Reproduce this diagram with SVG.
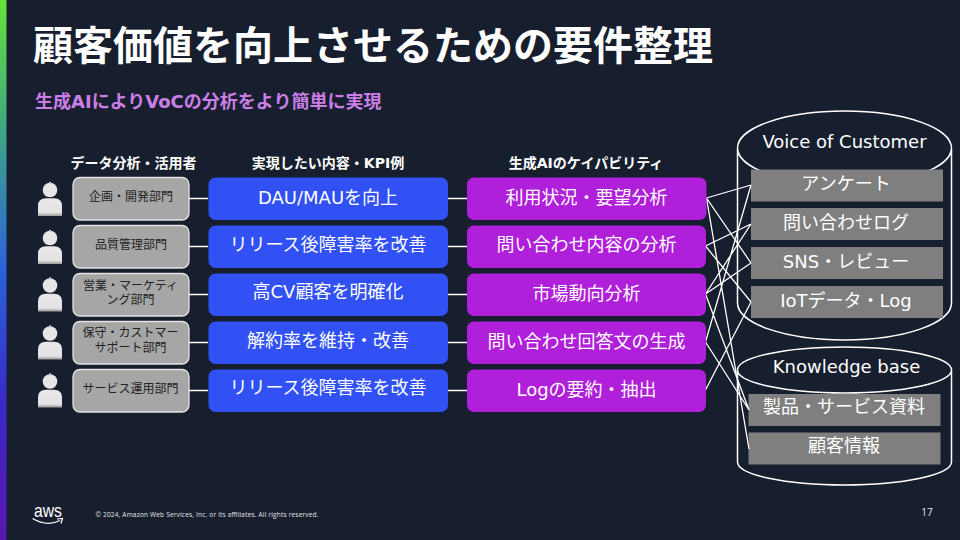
<svg xmlns="http://www.w3.org/2000/svg" xmlns:xlink="http://www.w3.org/1999/xlink" width="960" height="540" viewBox="0 0 960 540">
<style>
text{font-family:"DejaVu Sans","Noto Sans CJK JP",sans-serif;}
.m{text-anchor:middle}
.h{font-size:14px;font-weight:700;fill:#fff;text-anchor:middle}
.d{fill:#a6a6a6;stroke:#e4e4e4;stroke-width:1.3}
.dt{font-size:12px;fill:#222;text-anchor:middle}
.b{fill:#3251f5}
.p{fill:#b01fd9}
.t{font-size:18px;fill:#fff;text-anchor:middle}
.g{fill:#7f7f7f}
.c{fill:none;stroke:#fff;stroke-width:1.5}
.l{fill:none;stroke:#fff;stroke-width:1.3}
</style>
<defs>
<linearGradient id="bar" x1="0" y1="0" x2="0" y2="1">
<stop offset="0" stop-color="#66e23a"/>
<stop offset="0.22" stop-color="#41ab7c"/>
<stop offset="0.5" stop-color="#2a62dc"/>
<stop offset="0.75" stop-color="#3a28c8"/>
<stop offset="1" stop-color="#5a16b0"/>
</linearGradient>
<linearGradient id="person" x1="0" y1="0" x2="0" y2="1">
<stop offset="0" stop-color="#e8e8e8"/>
<stop offset="0.8" stop-color="#e4e4e4"/>
<stop offset="1" stop-color="#9a9a9a"/>
</linearGradient>
<g id="pers">
<circle cx="50" cy="190" r="7.300" fill="#e6e6e6"/>
<rect x="49" y="181.800" width="2" height="2" fill="#c8c8c8"/>
<path d="M38 216V206Q38 198.300 46 198.300H54Q62 198.300 62 206V216Z" fill="url(#person)"/>
</g>
</defs>
<rect width="960" height="540" fill="#171e2e"/>
<rect width="6.500" height="540" fill="url(#bar)"/>
<text id="title" x="33" y="60" font-size="40" font-weight="700" fill="#fff">顧客価値を向上させるための要件整理</text>
<text id="subtitle" x="35" y="108" font-size="18" font-weight="700" fill="#cb7fe6">生成AIによりVoCの分析をより簡単に実現</text>
<text class="h" x="133.500" y="168">データ分析・活用者</text>
<text class="h" x="328" y="168">実現したい内容・KPI例</text>
<text class="h" x="586" y="168">生成AIのケイパビリティ</text>

<g id="cyl-voc"><path class="c" d="M737.500 148A107 37 0 0 1 951.500 148V303A107 37 0 0 1 737.500 303ZM737.500 148A107 37 0 0 0 951.500 148"/>
<text x="844.500" y="148" font-size="18" fill="#fff" class="m">Voice of Customer</text></g>
<g id="cyl-kb"><path class="c" d="M737.500 370A107 23 0 0 1 951.500 370V462A107 23 0 0 1 737.500 462ZM737.500 370A107 23 0 0 0 951.500 370"/>
<text x="846.500" y="373" font-size="18" fill="#fff" class="m">Knowledge base</text></g>

<g id="s1"><rect class="g" x="751" y="169.500" width="192" height="32"/><text class="t" x="846" y="190">アンケート</text></g>
<g id="s2"><rect class="g" x="751" y="208" width="192" height="32"/><text class="t" x="846" y="228.500">問い合わせログ</text></g>
<g id="s3"><rect class="g" x="751" y="247" width="192" height="32"/><text class="t" x="846" y="267.500">SNS・レビュー</text></g>
<g id="s4"><rect class="g" x="751" y="286" width="192" height="32"/><text class="t" x="846" y="306.500">IoTデータ・Log</text></g>
<g id="s5"><rect class="g" x="748.500" y="394" width="192" height="32"/><text class="t" x="844" y="413">製品・サービス資料</text></g>
<g id="s6"><rect class="g" x="748.500" y="432.500" width="192" height="32"/><text class="t" x="844" y="452">顧客情報</text></g>

<g id="connectors">
<path class="l" d="M189 198.500H208M189 246.500H208M189 294.500H208M189 342.500H208M189 390.500H208"/>
<path class="l" d="M448 198.500H467M448 246.500H467M448 294.500H467M448 342.500H467M448 390.500H467"/>
<path class="l" d="M706.500 198L751 185M706.500 198L751 263M706.500 198L749 449M705.500 246L751 224M705.500 246L751 302M705.500 294L751 224M705.500 294L751 263M705.500 294L749 410M705.500 342L751 185M705.500 342L749 410M705.500 390L751 302"/>
</g>

<g id="r1"><use xlink:href="#pers" href="#pers"/><rect class="d" x="73" y="177.500" width="116" height="42.500" rx="7"/><text class="dt" x="131" y="200.500">企画・開発部門</text></g>
<g id="r2"><use xlink:href="#pers" href="#pers" y="48"/><rect class="d" x="73" y="225.500" width="116" height="42.500" rx="7"/><text class="dt" x="131" y="248.500">品質管理部門</text></g>
<g id="r3"><use xlink:href="#pers" href="#pers" y="95.500"/><rect class="d" x="73" y="273.500" width="116" height="42.500" rx="7"/><text class="dt" x="130.500" y="289.500">営業・マーケティ<tspan x="130.500" dy="14.500">ング部門</tspan></text></g>
<g id="r4"><use xlink:href="#pers" href="#pers" y="143.500"/><rect class="d" x="73" y="321.500" width="116" height="42.500" rx="7"/><text class="dt" x="130.500" y="337">保守・カストマー<tspan x="130.500" dy="15">サポート部門</tspan></text></g>
<g id="r5"><use xlink:href="#pers" href="#pers" y="191.500"/><rect class="d" x="73" y="369.500" width="116" height="42.500" rx="7"/><text class="dt" x="130.500" y="392.500">サービス運用部門</text></g>

<g id="b1"><rect class="b" x="208.500" y="177.500" width="239.500" height="42.500" rx="7"/><text class="t" x="328" y="203.500">DAU/MAUを向上</text></g>
<g id="b2"><rect class="b" x="208.500" y="225.500" width="239.500" height="42.500" rx="7"/><text class="t" x="328" y="251">リリース後障害率を改善</text></g>
<g id="b3"><rect class="b" x="208.500" y="273.500" width="239.500" height="42.500" rx="7"/><text class="t" x="328" y="297.500">高CV顧客を明確化</text></g>
<g id="b4"><rect class="b" x="208.500" y="321.500" width="239.500" height="42.500" rx="7"/><text class="t" x="328" y="346.500">解約率を維持・改善</text></g>
<g id="b5"><rect class="b" x="208.500" y="369.500" width="239.500" height="42.500" rx="7"/><text class="t" x="328" y="394">リリース後障害率を改善</text></g>

<g id="p1"><rect class="p" x="467" y="177.500" width="239.500" height="42.500" rx="7"/><text class="t" x="586.500" y="203.500">利用状況・要望分析</text></g>
<g id="p2"><rect class="p" x="467" y="225.500" width="239" height="42.500" rx="7"/><text class="t" x="586.500" y="251">問い合わせ内容の分析</text></g>
<g id="p3"><rect class="p" x="467" y="273.500" width="239" height="42.500" rx="7"/><text class="t" x="586.500" y="299.500">市場動向分析</text></g>
<g id="p4"><rect class="p" x="467" y="321.500" width="239" height="42.500" rx="7"/><text class="t" x="586.500" y="347.500">問い合わせ回答文の生成</text></g>
<g id="p5"><rect class="p" x="467" y="369.500" width="239" height="42.500" rx="7"/><text class="t" x="586.500" y="395.500">Logの要約・抽出</text></g>

<g id="aws"><text x="34" y="517" font-size="19" fill="#fff" textLength="28" lengthAdjust="spacingAndGlyphs" style="font-family:'Liberation Sans',sans-serif">aws</text>
<path d="M32.500 518.500Q47 527 60 520.500M57 519L62.500 518.500L61 523.500" fill="none" stroke="#fff" stroke-width="1.200"/></g>
<text x="95.500" y="517" font-size="6.500" fill="#e8e8e8" style="font-family:'Open Sans',sans-serif" textLength="223">© 2024, Amazon Web Services, Inc. or its affiliates. All rights reserved.</text>
<text x="927" y="516" font-size="10" fill="#e8e8e8" class="m" style="font-family:'Open Sans',sans-serif">17</text>
</svg>
